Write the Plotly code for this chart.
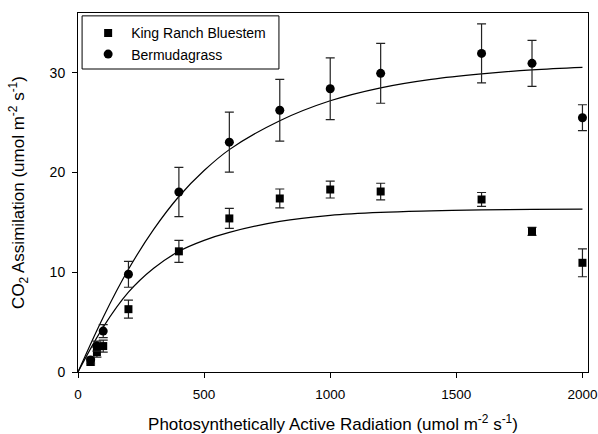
import plotly.graph_objects as go

par = [50, 75, 100, 200, 400, 600, 800, 1000, 1200, 1600, 1800, 2000]

krb_y = [1.0, 2.0, 2.6, 6.3, 12.1, 15.4, 17.4, 18.3, 18.1, 17.3, 14.1, 10.95]
krb_err = [0.3, 0.5, 0.6, 0.9, 1.1, 1.0, 0.95, 0.85, 0.83, 0.7, 0.4, 1.4]

berm_y = [1.2, 2.6, 4.1, 9.8, 18.05, 23.05, 26.25, 28.4, 29.95, 31.95, 30.95, 25.5]
berm_err = [0.3, 0.5, 0.65, 1.3, 2.47, 3.0, 3.1, 3.1, 3.0, 2.95, 2.3, 1.3]

fit_x = [0, 100, 200, 300, 400, 500, 600, 800, 1000, 1200, 1400, 1600, 1800, 2000]
krb_fit = [0, 4.5, 8.0, 10.4, 12.1, 13.2, 14.0, 15.1, 15.7, 16.0, 16.15, 16.25, 16.3, 16.33]
berm_fit = [0, 5.5, 10.3, 14.3, 17.6, 20.2, 22.3, 25.2, 27.2, 28.5, 29.35, 29.9, 30.3, 30.55]

FONT = "Arial, Liberation Sans, sans-serif"

fig = go.Figure()

fig.add_trace(go.Scatter(x=fit_x, y=berm_fit, mode="lines", line=dict(color="black", width=1.2, shape="spline"),
                         showlegend=False, hoverinfo="skip"))
fig.add_trace(go.Scatter(x=fit_x, y=krb_fit, mode="lines", line=dict(color="black", width=1.2, shape="spline"),
                         showlegend=False, hoverinfo="skip"))

fig.add_trace(go.Scatter(x=par, y=krb_y, mode="markers", name="King Ranch Bluestem",
                         marker=dict(symbol="square", size=8, color="black"),
                         error_y=dict(type="data", array=krb_err, color="#222", thickness=1.2, width=4.5)))
fig.add_trace(go.Scatter(x=par, y=berm_y, mode="markers", name="Bermudagrass",
                         marker=dict(symbol="circle", size=9, color="black"),
                         error_y=dict(type="data", array=berm_err, color="#222", thickness=1.2, width=4.5)))

fig.update_layout(
    width=598, height=434,
    margin=dict(l=78, r=10, t=13, b=62),
    plot_bgcolor="white", paper_bgcolor="white",
    font=dict(family=FONT, size=14, color="black"),
    showlegend=True,
    legend=dict(x=0.014, y=0.988, xanchor="left", yanchor="top",
                bgcolor="rgba(0,0,0,0)", borderwidth=0, itemwidth=36,
                font=dict(size=14, family=FONT), tracegroupgap=0),
    shapes=[dict(type="rect", xref="paper", yref="paper", x0=0.008, x1=0.394, y0=0.844, y1=0.992,
                 line=dict(color="black", width=1), fillcolor="rgba(0,0,0,0)")],
)

fig.update_xaxes(range=[0, 2022], tickvals=[0, 500, 1000, 1500, 2000], ticks="outside", ticklen=5,
                 tickwidth=1, tickcolor="black", showline=True, linecolor="black", linewidth=1,
                 mirror=True, showgrid=False, zeroline=False, tickfont=dict(size=13.5), automargin=False,
                 ticklabelstandoff=5,
                 title=dict(text="Photosynthetically Active Radiation (umol m<sup>-2</sup> s<sup>-1</sup>)",
                            font=dict(size=17), standoff=25))
fig.update_yaxes(range=[0, 36], tickvals=[0, 10, 20, 30], ticks="outside", ticklen=5,
                 tickwidth=1, tickcolor="black", showline=True, linecolor="black", linewidth=1,
                 mirror=True, showgrid=False, zeroline=False, tickfont=dict(size=14), automargin=False,
                 ticklabelstandoff=4,
                 title=dict(text="CO<sub>2</sub> Assimilation (umol m<sup>-2</sup> s<sup>-1</sup>)",
                            font=dict(size=17), standoff=20))

fig.write_html("out.html", config={"displayModeBar": False},
               post_script="document.body.style.margin='0';document.body.style.padding='0';")
